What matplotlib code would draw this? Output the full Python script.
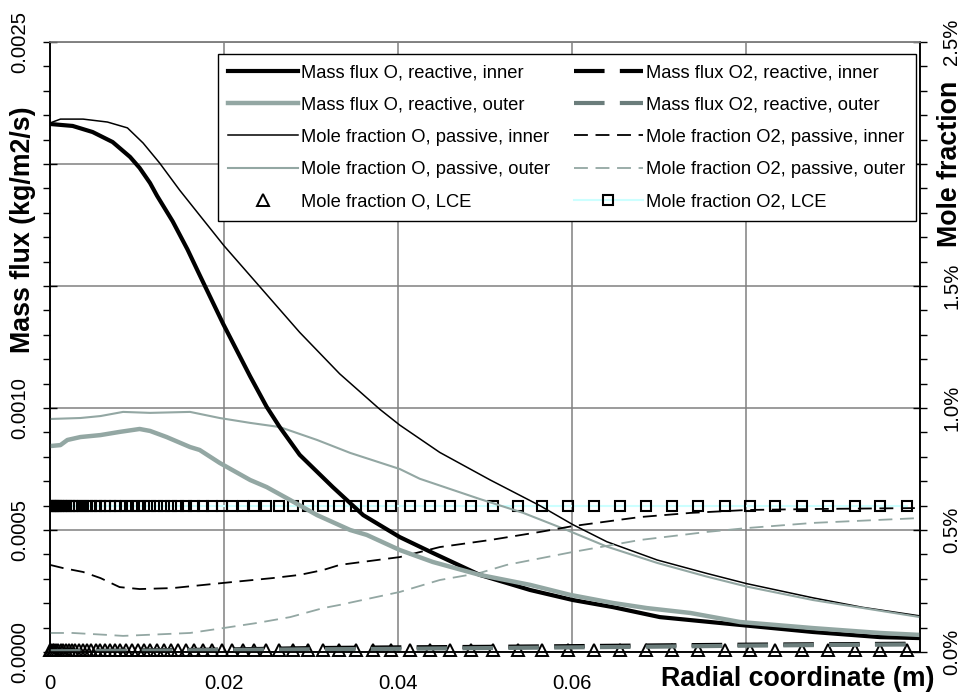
import matplotlib.pyplot as plt
from matplotlib.lines import Line2D
from matplotlib.ticker import FixedLocator, MultipleLocator

plt.rcParams['font.family'] = ['Liberation Sans', 'DejaVu Sans']
plt.rcParams['lines.scale_dashes'] = False

# --- mass flux, reactive wall (kg/m2/s) ---
r_mf_o_in = [0, 0.0026, 0.0049, 0.0072, 0.0092, 0.0103, 0.0115, 0.0123, 0.0141, 0.0158,
             0.0172, 0.0199, 0.0230, 0.0249, 0.0264, 0.0287, 0.0325, 0.0360, 0.0402,
             0.0440, 0.0494, 0.0552, 0.0601, 0.0647, 0.0701, 0.0793, 0.0877, 0.0954, 0.1000]
mf_o_in = [0.002164, 0.002156, 0.002131, 0.002090, 0.002029, 0.001984, 0.001922, 0.001870,
           0.001765, 0.001650, 0.001545, 0.001345, 0.001130, 0.001005, 0.000922, 0.000808,
           0.000676, 0.000561, 0.000471, 0.000406, 0.000316, 0.000254, 0.000213,
           0.000184, 0.000143, 0.000111, 0.000082, 0.000061, 0.000057]

r_mf_o_out = [0, 0.0012, 0.0020, 0.0035, 0.0058, 0.0080, 0.0103, 0.0115, 0.0134, 0.0161,
              0.0172, 0.0195, 0.0230, 0.0249, 0.0276, 0.0307, 0.0345, 0.0364, 0.0402, 0.0440,
              0.0494, 0.0552, 0.0598, 0.0647, 0.0686, 0.0736, 0.0793, 0.0877, 0.0954, 0.1000]
mf_o_out = [0.000844, 0.000848, 0.000869, 0.000881, 0.000889, 0.000902, 0.000914, 0.000906,
            0.000881, 0.000840, 0.000828, 0.000775, 0.000705, 0.000676, 0.000623, 0.000561,
            0.000500, 0.000480, 0.000418, 0.000369, 0.000316, 0.000275, 0.000234, 0.000201,
            0.000180, 0.000160, 0.000123, 0.000098, 0.000078, 0.000070]

r_mf_o2 = [0, 0.01, 0.02, 0.03, 0.04, 0.05, 0.06, 0.07, 0.08, 0.09, 0.10]
mf_o2_in = [0.000004, 0.000006, 0.000010, 0.000016, 0.000019, 0.000021, 0.000024,
            0.000027, 0.000030, 0.000032, 0.000034]
mf_o2_out = [0.000003, 0.000005, 0.000008, 0.000011, 0.000013, 0.000016, 0.000019,
             0.000022, 0.000026, 0.000029, 0.000031]

# --- mole fractions, passive wall ---
r_x_o_in = [0, 0.0012, 0.0038, 0.0066, 0.0089, 0.0107, 0.0126, 0.0149, 0.0172, 0.0200,
            0.0238, 0.0287, 0.0333, 0.0379, 0.0402, 0.0448, 0.0506, 0.0563, 0.0601, 0.0640,
            0.0698, 0.0755, 0.0801, 0.0877, 0.0934, 0.1000]
x_o_in = [0.02168, 0.02184, 0.02184, 0.02172, 0.02148, 0.02086, 0.02004, 0.01893, 0.01790,
          0.01665, 0.01510, 0.01310, 0.01140, 0.00995, 0.00930, 0.00818, 0.00705, 0.00600,
          0.00522, 0.00452, 0.00377, 0.00322, 0.00280, 0.00222, 0.00183, 0.00148]

r_x_o_out = [0, 0.0035, 0.0058, 0.0084, 0.0115, 0.0161, 0.0195, 0.0230, 0.0264, 0.0307,
             0.0345, 0.0402, 0.0425, 0.0494, 0.0544, 0.0594, 0.0640, 0.0698, 0.0755, 0.0801,
             0.0877, 0.1000]
x_o_out = [0.00955, 0.00959, 0.00967, 0.00984, 0.00980, 0.00984, 0.00959, 0.00939, 0.00922,
           0.00869, 0.00816, 0.00750, 0.00710, 0.00627, 0.00570, 0.00500, 0.00432, 0.00365,
           0.00309, 0.00268, 0.00213, 0.00143]

r_x_o2_in = [0, 0.0015, 0.0038, 0.0058, 0.0080, 0.0103, 0.0141, 0.0199, 0.0256, 0.0287,
             0.0314, 0.0333, 0.0402, 0.0448, 0.0506, 0.0563, 0.0601, 0.0678, 0.0736, 0.0801,
             0.0877, 0.1000]
x_o2_in = [0.00357, 0.00344, 0.00328, 0.00303, 0.00266, 0.00258, 0.00262, 0.00283, 0.00303,
           0.00316, 0.00336, 0.00357, 0.00389, 0.00430, 0.00459, 0.00492, 0.00516, 0.00553,
           0.00570, 0.00582, 0.00586, 0.00590]

r_x_o2_out = [0, 0.0026, 0.0066, 0.0084, 0.0123, 0.0161, 0.0199, 0.0238, 0.0276, 0.0314,
              0.0333, 0.0402, 0.0448, 0.0494, 0.0525, 0.0601, 0.0678, 0.0755, 0.0801, 0.0877,
              0.1000]
x_o2_out = [0.00078, 0.00078, 0.00070, 0.00066, 0.00072, 0.00078, 0.00098, 0.00119, 0.00143,
            0.00180, 0.00193, 0.00246, 0.00295, 0.00324, 0.00357, 0.00410, 0.00459, 0.00492,
            0.00508, 0.00529, 0.00549]

# --- local chemical equilibrium, on the mesh nodes ---
r_lce = [0, 0.00011, 0.00029, 0.00046, 0.00069, 0.00092, 0.00121, 0.00149, 0.00184, 0.00218,
         0.00253, 0.00293, 0.00333, 0.00379, 0.00425, 0.00471, 0.00523, 0.00575, 0.00632, 0.00690,
         0.00747, 0.00810, 0.00874, 0.00943, 0.01011, 0.01080, 0.01155, 0.01230, 0.01310, 0.01391,
         0.01471, 0.01563, 0.01655, 0.01759, 0.01862, 0.01977, 0.02092, 0.02218, 0.02345, 0.02483,
         0.02632, 0.02793, 0.02966, 0.03138, 0.03322, 0.03517, 0.03713, 0.03920, 0.04138, 0.04368,
         0.04598, 0.04839, 0.05092, 0.05379, 0.05655, 0.05954, 0.06253, 0.06552, 0.06851, 0.07149,
         0.07448, 0.07759, 0.08046, 0.08333, 0.08644, 0.08943, 0.09253, 0.09540, 0.09851]
lce_o = [0.0001, 0.0001, 0.0001, 0.0001, 0.0001, 0.0001, 0.0001, 0.0001, 0.0001, 0.0001,
         0.0001, 0.0001, 0.0001, 0.0001, 0.0001, 0.0001, 0.0001, 0.0001, 0.0001, 0.0001,
         0.0001, 0.0001, 0.0001, 0.0001, 0.0001, 0.0001, 0.0001, 0.0001, 0.0001, 0.0001,
         0.0001, 0.0001, 0.0001, 0.0001, 0.0001, 0.0001, 0.0001, 0.0001, 0.0001, 0.0001,
         0.0001, 0.0001, 0.0001, 0.0001, 0.0001, 0.0001, 0.0001, 0.0001, 0.0001, 0.0001,
         0.0001, 0.0001, 0.0001, 0.0001, 0.0001, 0.0001, 0.0001, 0.0001, 0.0001, 0.0001,
         0.0001, 0.0001, 0.0001, 0.0001, 0.0001, 0.0001, 0.0001, 0.0001, 0.0001]
lce_o2 = [0.0060, 0.0060, 0.0060, 0.0060, 0.0060, 0.0060, 0.0060, 0.0060, 0.0060, 0.0060,
          0.0060, 0.0060, 0.0060, 0.0060, 0.0060, 0.0060, 0.0060, 0.0060, 0.0060, 0.0060,
          0.0060, 0.0060, 0.0060, 0.0060, 0.0060, 0.0060, 0.0060, 0.0060, 0.0060, 0.0060,
          0.0060, 0.0060, 0.0060, 0.0060, 0.0060, 0.0060, 0.0060, 0.0060, 0.0060, 0.0060,
          0.0060, 0.0060, 0.0060, 0.0060, 0.0060, 0.0060, 0.0060, 0.0060, 0.0060, 0.0060,
          0.0060, 0.0060, 0.0060, 0.0060, 0.0060, 0.0060, 0.0060, 0.0060, 0.0060, 0.0060,
          0.0060, 0.0060, 0.0060, 0.0060, 0.0060, 0.0060, 0.0060, 0.0060, 0.0060]

x_ticks = [0, 0.02, 0.04, 0.06, 0.08, 0.10]
x_ticklabels = ['0', '0.02', '0.04', '0.06', '', '']
mf_ticks = [0, 0.0005, 0.0010, 0.0015, 0.0020, 0.0025]
mf_ticklabels = ['0.0000', '0.0005', '0.0010', '', '', '0.0025']
mole_ticks = [0, 0.005, 0.010, 0.015, 0.020, 0.025]
mole_ticklabels = ['0.0%', '0.5%', '1.0%', '1.5%', '', '2.5%']

GREY = '#93a7a3'
DARKGREY = '#6b7d7b'
CYAN = '#ccffff'
GRID = '#808080'

fig = plt.figure(figsize=(9.62, 6.92), dpi=100)
# mole fraction axes sits underneath and carries the grid
ax_mole = fig.add_axes([50 / 962, 40 / 692, 870 / 962, 610 / 692])
ax_mass = ax_mole.twinx()
ax_mole.yaxis.tick_right()
ax_mass.yaxis.tick_left()

# mole fractions (right axis)
ax_mole.plot(r_lce, lce_o2, color=CYAN, lw=1.5, marker='s', ms=7.2, mfc='none',
             mec='black', mew=1.5, zorder=2)
ax_mole.plot(r_lce, lce_o, ls='none', marker='^', ms=9, mfc='none', mec='black',
             mew=1.4, zorder=2, clip_on=False)
ax_mole.plot(r_x_o_in, x_o_in, color='black', lw=1.1, zorder=3)
ax_mole.plot(r_x_o_out, x_o_out, color=GREY, lw=1.5, zorder=3)
ax_mole.plot(r_x_o2_in, x_o2_in, color='black', lw=1.3, dashes=(10, 5.5), zorder=3)
ax_mole.plot(r_x_o2_out, x_o2_out, color=GREY, lw=1.3, dashes=(10, 5.5), zorder=3)

# mass fluxes (left axis)
ax_mass.plot(r_mf_o2, mf_o2_in, color='black', lw=3.0, dashes=(22, 11))
ax_mass.plot(r_mf_o2, mf_o2_out, color=DARKGREY, lw=3.0, dashes=(22, 11))
ax_mass.plot(r_mf_o_in, mf_o_in, color='black', lw=3.0)
ax_mass.plot(r_mf_o_out, mf_o_out, color=GREY, lw=3.2)

ax_mole.set_xlim(0, 0.1)
ax_mole.set_ylim(0, 0.025)
ax_mass.set_ylim(0, 0.0025)

ax_mole.xaxis.set_major_locator(FixedLocator(x_ticks))
ax_mole.set_xticklabels(x_ticklabels)
ax_mole.yaxis.set_major_locator(FixedLocator(mole_ticks))
ax_mole.set_yticklabels(mole_ticklabels, rotation=90, va='center')
ax_mole.yaxis.set_minor_locator(MultipleLocator(0.001))
ax_mass.yaxis.set_major_locator(FixedLocator(mf_ticks))
ax_mass.set_yticklabels(mf_ticklabels, rotation=90, va='center')
ax_mass.yaxis.set_minor_locator(MultipleLocator(0.0001))

ax_mole.tick_params(axis='x', length=0, pad=16, labelsize=14.7)
ax_mole.tick_params(axis='y', which='major', direction='inout', length=10, width=1,
                    pad=11, labelsize=14.7)
ax_mole.tick_params(axis='y', which='minor', direction='out', length=5, width=1)
ax_mass.tick_params(axis='y', which='major', direction='inout', length=10, width=1,
                    pad=10, labelsize=14.7)
ax_mass.tick_params(axis='y', which='minor', direction='out', length=5, width=1)

ax_mole.grid(True, which='major', color=GRID, lw=1.1, zorder=0)
ax_mole.set_axisbelow(True)
for ax in (ax_mole, ax_mass):
    ax.spines['top'].set_color(GRID)
    ax.spines['top'].set_linewidth(1.1)
    for side in ('left', 'right', 'bottom'):
        ax.spines[side].set_color('black')
        ax.spines[side].set_linewidth(1.1)

fig.text(23 / 962, 1 - 230 / 692, 'Mass flux (kg/m2/s)', rotation=90, ha='center',
         va='center', fontsize=19.3, fontweight='bold')
fig.text(950 / 962, 1 - 164 / 692, 'Mole fraction', rotation=90, ha='center',
         va='center', fontsize=19.3, fontweight='bold')
fig.text(798 / 962, 1 - 679 / 692, 'Radial coordinate (m)', ha='center', va='center',
         fontsize=19.3, fontweight='bold')

handles = [
    Line2D([], [], color='black', lw=3.0),
    Line2D([], [], color=GREY, lw=3.2),
    Line2D([], [], color='black', lw=1.1),
    Line2D([], [], color=GREY, lw=1.5),
    Line2D([], [], ls='none', marker='^', ms=9, mfc='none', mec='black', mew=1.4),
    Line2D([], [], color='black', lw=3.0, dashes=(22, 11)),
    Line2D([], [], color=DARKGREY, lw=3.0, dashes=(22, 11)),
    Line2D([], [], color='black', lw=1.3, dashes=(10, 5.5)),
    Line2D([], [], color=GREY, lw=1.3, dashes=(10, 5.5)),
    Line2D([], [], color=CYAN, lw=1.5, marker='s', ms=7.2, mfc='none', mec='black', mew=1.5),
]
labels = [
    'Mass flux O, reactive, inner',
    'Mass flux O, reactive, outer',
    'Mole fraction O, passive, inner',
    'Mole fraction O, passive, outer',
    'Mole fraction O, LCE',
    'Mass flux O2, reactive, inner',
    'Mass flux O2, reactive, outer',
    'Mole fraction O2, passive, inner',
    'Mole fraction O2, passive, outer',
    'Mole fraction O2, LCE',
]
leg = ax_mass.legend(handles, labels, ncol=2, loc='upper left',
                     bbox_to_anchor=(218 / 962, 1 - 54 / 692), bbox_transform=fig.transFigure,
                     borderaxespad=0, fancybox=False, framealpha=1, edgecolor='black',
                     prop={'size': 13.2}, handlelength=3.8, handletextpad=0.16,
                     columnspacing=1.3, borderpad=0.55, labelspacing=0.84)
leg.get_frame().set_linewidth(1.0)

fig.savefig('out.png', dpi=100)
